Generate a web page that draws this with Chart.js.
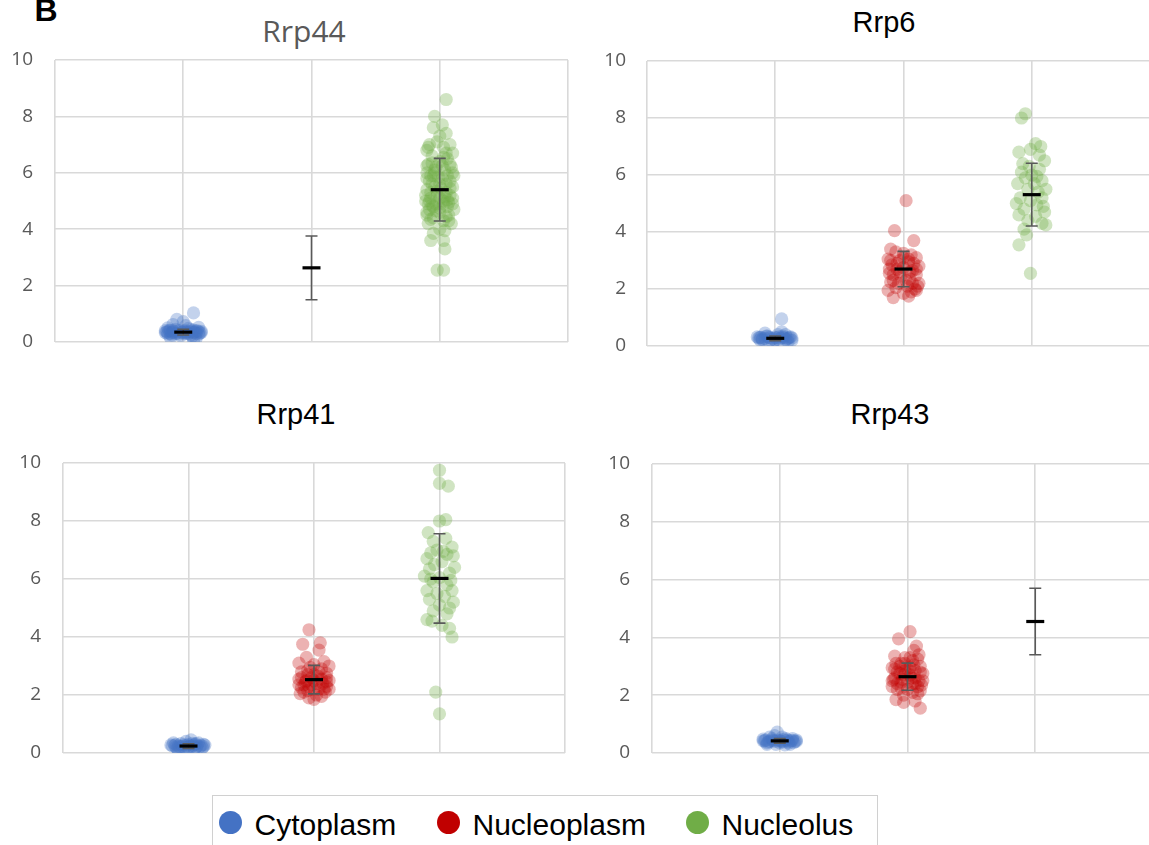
<!DOCTYPE html>
<html><head><meta charset="utf-8">
<script src="https://cdn.jsdelivr.net/npm/chart.js@4.4.0/dist/chart.umd.min.js"></script>
<style>
html,body{margin:0;padding:0;background:#fff}
body{width:1149px;height:845px;overflow:hidden;position:relative;font-family:"Liberation Sans",Arial,sans-serif}
canvas{position:absolute}
.t{position:absolute;transform:translateX(-50%);white-space:nowrap;line-height:1}
#legend{position:absolute;left:212px;top:795px;width:666px;height:70px;border:1.5px solid #d0d0d0;box-sizing:border-box}
.dot{position:absolute;width:23px;height:23px;border-radius:50%}
.lt{position:absolute;font-size:30px;line-height:1;color:#000;white-space:nowrap}
</style></head>
<body>
<div class="t" style="left:46px;top:-6px;font-size:32px;font-weight:bold;transform:translateX(-50%)">B</div>
<div class="t" id="t0"></div><div class="t" id="t1"></div><div class="t" id="t2"></div><div class="t" id="t3"></div>
<canvas id="c0"></canvas><canvas id="c1"></canvas><canvas id="c2"></canvas><canvas id="c3"></canvas>
<div id="legend"></div>
<script>
// ---------------- DATA ----------------
const categories = ["Cytoplasm", "Nucleoplasm", "Nucleolus"];
const panelTitles = ["Rrp44", "Rrp6", "Rrp41", "Rrp43"];
const yTicks = [0, 2, 4, 6, 8, 10];
// each point: [horizontal jitter within category, value]
const rrp44Cytoplasm = [[-0.12,0.35],[-0.1,0.3],[-0.08,0.4],[-0.05,0.32],[-0.03,0.28],[0,0.38],[0.02,0.3],[0.05,0.35],[0.08,0.42],[0.1,0.3],[0.12,0.36],[-0.14,0.33],[0.14,0.38],[-0.06,0.45],[0.04,0.48],[-0.02,0.22],[0.07,0.2],[-0.1,0.15],[0.1,0.12],[0.08,0.05],[-0.05,0.8],[0.0,0.72],[0.08,1.03],[-0.08,0.62],[0.02,0.58],[-0.12,0.5],[0.12,0.52],[0.06,0.25],[-0.09,0.25],
  [-0.13,0.36],[-0.11,0.4],[-0.09,0.33],[-0.07,0.37],[-0.04,0.36],[-0.01,0.34],[0.01,0.4],[0.03,0.36],[0.06,0.38],[0.09,0.35],[0.11,0.4],[0.13,0.32],[-0.12,0.28],[-0.06,0.3],[0.0,0.32],[0.04,0.3],[0.08,0.33],[0.12,0.28],[-0.1,0.42],[0.06,0.44],[-0.03,0.41],[0.1,0.38],[-0.14,0.4],[0.14,0.33],[-0.08,0.35],[0.02,0.34]];
const rrp44Nucleoplasm = [];
const rrp44Nucleolus = [[0.05,8.6],[-0.04,8.0],[-0.05,7.6],[0.05,7.4],[0.0,7.3],[-0.08,7.0],[0.08,7.0],[-0.02,7.1],[0.03,6.9],[-0.1,6.8],[0.1,6.7],[-0.06,6.6],[0.06,6.5],[0.0,6.4],[-0.09,6.3],[0.09,6.2],[-0.03,6.2],[0.04,6.1],[-0.1,6.0],[0.1,6.0],[-0.05,5.9],[0.02,5.8],[-0.08,5.7],[0.08,5.7],[0.0,5.6],[-0.04,5.5],[0.1,5.5],[-0.1,5.4],[0.05,5.3],[-0.02,5.2],[0.08,5.2],[-0.07,5.1],[0.03,5.0],[-0.11,5.0],[0.1,4.9],[-0.03,4.9],[0.06,4.8],[-0.08,4.7],[0.11,4.7],[0.0,4.6],[-0.1,4.5],[0.07,4.5],[-0.05,4.4],[0.03,4.3],[-0.09,4.2],[0.09,4.2],[0.0,4.0],[-0.05,3.85],[0.04,3.95],[-0.07,3.6],[0.03,3.6],[0.04,3.3],[-0.02,2.55],[0.03,2.55],[-0.06,5.6],[0.06,5.9],[-0.04,6.1],[0.05,6.7],[-0.07,5.3],[0.0,5.1],[0.08,6.3],[-0.09,6.9],[0.02,7.7],[0.07,4.3],[-0.1,4.6],
  [-0.1,5.8],[-0.07,5.9],[-0.04,6.0],[-0.01,5.85],[0.02,6.25],[0.05,5.6],[0.08,5.45],[0.11,5.9],[-0.11,5.2],[-0.08,5.0],[-0.05,4.8],[-0.02,5.35],[0.01,5.45],[0.04,5.15],[0.07,4.95],[0.1,5.1],[-0.09,4.9],[-0.06,4.85],[-0.03,4.65],[0.0,4.75],[0.03,4.9],[0.06,5.05],[-0.1,6.25],[-0.06,6.35],[0.03,6.55],[-0.07,4.35],[0.05,4.45]];
const rrp44Mean = [0.35, 2.63, 5.40];
const rrp44Sd = [0.1, 1.13, 1.11];

const rrp6Cytoplasm = [[-0.12,0.3],[-0.1,0.25],[-0.07,0.35],[-0.04,0.28],[0,0.3],[0.03,0.22],[0.06,0.3],[0.09,0.25],[0.12,0.32],[-0.14,0.32],[0.1,0.15],[-0.05,0.15],[0.02,0.4],[0.05,0.5],[-0.08,0.45],[0.05,0.95],[0.13,0.2],[-0.02,0.1],[0.08,0.4],
  [-0.13,0.28],[-0.11,0.3],[-0.08,0.27],[-0.05,0.3],[-0.02,0.26],[0.01,0.28],[0.04,0.27],[0.07,0.29],[0.1,0.27],[0.13,0.28],[-0.1,0.22],[0.0,0.2],[0.08,0.22],[-0.06,0.35],[0.06,0.35],[0.11,0.3],[-0.12,0.22],[0.03,0.32]];
const rrp6Nucleoplasm = [[0.02,5.1],[-0.07,4.05],[0.08,3.7],[-0.1,3.4],[-0.06,3.3],[0.0,3.25],[0.06,3.2],[0.1,3.1],[-0.12,3.05],[-0.03,3.0],[0.04,2.95],[-0.09,2.85],[0.12,2.8],[0.0,2.75],[-0.05,2.7],[0.07,2.65],[-0.11,2.55],[0.1,2.5],[-0.02,2.45],[0.05,2.35],[-0.08,2.3],[0.12,2.2],[0.03,2.1],[-0.06,2.05],[0.09,2.0],[-0.12,1.95],[0.06,1.9],[0.0,1.85],[0.1,1.95],[-0.08,1.7],[0.04,1.75],[-0.03,2.6],[0.08,2.9],[-0.1,2.25],
  [-0.1,3.0],[-0.05,2.9],[0.0,3.1],[0.05,2.6],[0.1,2.7],[-0.08,2.5],[0.02,2.3],[0.07,2.2],[-0.04,2.2],[0.11,2.1],[-0.11,2.7],[0.04,3.05]];
const rrp6Nucleolus = [[-0.05,8.15],[-0.08,8.0],[-0.1,6.8],[-0.01,6.9],[0.03,7.1],[0.07,7.0],[0.1,6.5],[0.06,6.2],[-0.08,6.1],[0.0,6.0],[-0.05,5.9],[0.08,5.8],[-0.11,5.7],[0.02,5.7],[0.11,5.5],[-0.03,5.5],[0.05,5.4],[-0.09,5.2],[0.08,5.2],[-0.01,5.1],[-0.12,5.0],[0.04,4.95],[-0.06,4.8],[0.1,4.7],[-0.1,4.6],[0.03,4.55],[-0.03,4.4],[0.08,4.3],[0.11,4.25],[-0.06,4.1],[-0.04,3.9],[-0.1,3.55],[-0.01,2.55],[0.06,6.7],[-0.07,6.4],[0.04,5.95],[0.09,4.9],[-0.02,6.3]];
const rrp6Mean = [0.27, 2.70, 5.31];
const rrp6Sd = [0.08, 0.62, 1.10];

const rrp41Cytoplasm = [[-0.13,0.25],[-0.1,0.3],[-0.07,0.22],[-0.04,0.28],[0,0.3],[0.03,0.25],[0.06,0.32],[0.09,0.22],[0.12,0.3],[-0.09,0.15],[0.05,0.15],[-0.02,0.4],[0.02,0.45],[-0.08,0.08],[0.08,0.35],[0.11,0.18],[-0.12,0.35],[0.0,0.12],
  [-0.14,0.28],[-0.11,0.26],[-0.08,0.25],[-0.05,0.23],[-0.02,0.26],[0.01,0.24],[0.04,0.27],[0.07,0.25],[0.1,0.26],[0.13,0.27],[-0.1,0.2],[0.0,0.2],[0.06,0.2],[-0.06,0.32],[0.05,0.3],[0.12,0.22],[-0.03,0.18],[0.03,0.33]];
const rrp41Nucleoplasm = [[-0.04,4.25],[-0.09,3.75],[0.05,3.8],[0.04,3.55],[-0.06,3.3],[0.08,3.15],[-0.12,3.1],[0.0,3.05],[0.12,3.0],[-0.03,2.95],[0.06,2.9],[-0.1,2.8],[0.1,2.75],[-0.05,2.7],[0.03,2.65],[-0.12,2.55],[0.12,2.5],[0.0,2.5],[-0.07,2.45],[0.07,2.4],[-0.02,2.35],[0.1,2.3],[-0.1,2.25],[0.04,2.2],[-0.05,2.15],[0.09,2.1],[-0.11,2.05],[0.02,2.0],[-0.04,1.9],[0.06,1.95],[-0.08,2.35],[0.1,2.6],[0.0,1.85],
  [-0.1,2.6],[-0.06,2.5],[-0.02,2.6],[0.02,2.4],[0.06,2.55],[0.1,2.45],[-0.12,2.35],[-0.04,2.3],[0.0,2.7],[0.04,2.8],[0.08,2.2],[-0.08,2.1],[0.12,2.2],[0.0,2.2],[-0.05,2.85]];
const rrp41Nucleolus = [[0.0,9.75],[0.0,9.3],[0.07,9.2],[0.0,8.0],[0.05,8.05],[-0.09,7.6],[0.05,7.4],[-0.05,7.3],[0.1,7.1],[-0.02,7.0],[-0.07,6.9],[0.06,6.85],[0.11,6.8],[-0.1,6.7],[0.02,6.6],[-0.04,6.5],[0.12,6.4],[-0.08,6.35],[0.08,6.2],[-0.12,6.1],[0.0,6.05],[-0.05,5.9],[0.06,5.8],[-0.1,5.6],[0.1,5.6],[-0.02,5.5],[0.04,5.4],[-0.08,5.3],[0.11,5.2],[0.0,5.1],[0.08,5.0],[-0.05,4.9],[0.06,4.8],[-0.1,4.6],[-0.06,4.55],[0.02,4.4],[0.08,4.3],[0.1,4.0],[-0.03,2.1],[0.0,1.35],[0.03,6.95],[-0.07,6.0],[0.09,5.95]];
const rrp41Mean = [0.24, 2.53, 6.02];
const rrp41Sd = [0.08, 0.49, 1.54];

const rrp43Cytoplasm = [[-0.12,0.42],[-0.09,0.38],[-0.06,0.45],[-0.03,0.4],[0,0.43],[0.03,0.38],[0.06,0.45],[0.09,0.42],[0.12,0.4],[-0.1,0.3],[0.08,0.3],[-0.04,0.6],[-0.02,0.72],[0.02,0.55],[0.1,0.5],[-0.08,0.55],[0.04,0.28],[-0.13,0.48],[0.13,0.45],
  [-0.13,0.42],[-0.11,0.45],[-0.08,0.4],[-0.05,0.42],[-0.02,0.45],[0.01,0.4],[0.04,0.43],[0.07,0.4],[0.1,0.44],[0.13,0.4],[-0.1,0.35],[0.0,0.35],[0.07,0.35],[-0.06,0.5],[0.05,0.5],[0.11,0.36],[-0.03,0.3],[0.03,0.48]];
const rrp43Nucleoplasm = [[0.02,4.2],[-0.07,3.95],[0.07,3.7],[0.05,3.55],[0.09,3.4],[-0.02,3.3],[-0.1,3.35],[0.04,3.2],[-0.05,3.1],[0.1,3.0],[-0.12,2.95],[0.0,2.9],[0.06,2.85],[-0.08,2.8],[0.12,2.75],[-0.03,2.7],[0.03,2.6],[-0.11,2.55],[0.09,2.5],[-0.05,2.45],[0.06,2.4],[-0.12,2.3],[0.11,2.35],[0.0,2.2],[-0.08,2.2],[0.04,2.1],[-0.03,2.0],[0.08,2.05],[-0.09,1.85],[-0.03,1.75],[0.06,1.8],[0.1,1.55],[-0.06,3.0],[0.02,2.95],[-0.1,2.6],
  [-0.1,2.9],[-0.06,2.75],[-0.02,2.85],[0.02,2.7],[0.06,2.6],[0.1,2.8],[-0.12,2.5],[-0.04,2.55],[0.0,2.45],[0.04,2.4],[0.08,2.3],[-0.08,2.4],[0.12,2.5],[-0.02,3.1],[0.05,3.05],[-0.09,3.1],[0.02,3.3],[0.08,3.25],[-0.05,2.25],[0.1,2.15]];
const rrp43Nucleolus = [];
const rrp43Mean = [0.42, 2.64, 4.55];
const rrp43Sd = [0.08, 0.47, 1.15];

// ---------------- STYLE / LAYOUT ----------------
const pointColors = ["rgba(68,114,196,0.32)", "rgba(192,0,0,0.30)", "rgba(112,173,71,0.33)"];
const legendColors = ["#4472C4", "#C00000", "#70AD47"];
const panels = [
  {title: panelTitles[0], pts: [rrp44Cytoplasm, rrp44Nucleoplasm, rrp44Nucleolus], mean: rrp44Mean, sd: rrp44Sd,
   L: 55, R: 568, T: 60, B: 342, gap: 22, tx: 304, ty: 16, tf: '30px "Open Sans"', tc: '#595959'},
  {title: panelTitles[1], pts: [rrp6Cytoplasm, rrp6Nucleoplasm, rrp6Nucleolus], mean: rrp6Mean, sd: rrp6Sd,
   L: 647, R: 1160, T: 61, B: 346, gap: 21, tx: 884, ty: 8, tf: '29px "Liberation Sans"', tc: '#000'},
  {title: panelTitles[2], pts: [rrp41Cytoplasm, rrp41Nucleoplasm, rrp41Nucleolus], mean: rrp41Mean, sd: rrp41Sd,
   L: 63, R: 565, T: 463, B: 753, gap: 22, tx: 296, ty: 400, tf: '29px "Liberation Sans"', tc: '#000'},
  {title: panelTitles[3], pts: [rrp43Cytoplasm, rrp43Nucleoplasm, rrp43Nucleolus], mean: rrp43Mean, sd: rrp43Sd,
   L: 652, R: 1163, T: 464, B: 753, gap: 22, tx: 890, ty: 400, tf: '29px "Liberation Sans"', tc: '#000'}
];

const errPlugin = {
  id: 'errbars',
  afterDatasetsDraw(chart) {
    const o = chart.options.plugins.errbars;
    if (!o) return;
    const xs = chart.scales.x, ys = chart.scales.y, ctx = chart.ctx;
    ctx.save();
    o.mean.forEach((m, i) => {
      const x = xs.getPixelForValue(i + 1);
      const yLo = ys.getPixelForValue(m - o.sd[i]);
      const yHi = ys.getPixelForValue(m + o.sd[i]);
      ctx.strokeStyle = '#595959'; ctx.lineWidth = 1.6;
      ctx.beginPath();
      ctx.moveTo(x, yLo); ctx.lineTo(x, yHi);
      ctx.moveTo(x - 6, yLo); ctx.lineTo(x + 6, yLo);
      ctx.moveTo(x - 6, yHi); ctx.lineTo(x + 6, yHi);
      ctx.stroke();
      const ym = ys.getPixelForValue(m);
      ctx.strokeStyle = '#000'; ctx.lineWidth = 3.2;
      ctx.beginPath(); ctx.moveTo(x - 9, ym); ctx.lineTo(x + 9, ym); ctx.stroke();
    });
    ctx.restore();
  }
};

const AW = 60, PT = 40, PB = 40, PR = 10;
panels.forEach((p, k) => {
  const t = document.getElementById('t' + k);
  t.textContent = p.title;
  t.style.left = p.tx + 'px'; t.style.top = p.ty + 'px';
  t.style.font = p.tf; t.style.color = p.tc; t.style.lineHeight = '1';
  const c = document.getElementById('c' + k);
  const w = p.R - p.L + AW + PR, h = p.B - p.T + PT + PB;
  c.width = w; c.height = h;
  c.style.left = (p.L - AW) + 'px'; c.style.top = (p.T - PT) + 'px';
  c.style.width = w + 'px'; c.style.height = h + 'px';
  const datasets = p.pts.map((arr, i) => ({
    label: categories[i],
    data: arr.map(d => ({x: i + 1 + d[0], y: d[1]})),
    backgroundColor: pointColors[i],
    borderWidth: 0,
    pointRadius: 6.6,
    pointHoverRadius: 6.6
  }));
  new Chart(c, {
    type: 'scatter',
    data: {datasets},
    plugins: [errPlugin],
    options: {
      responsive: false, animation: false, devicePixelRatio: 1,
      layout: {padding: {left: 0, right: PR, top: PT, bottom: PB}},
      plugins: {legend: {display: false}, tooltip: {enabled: false}, errbars: {mean: p.mean, sd: p.sd}},
      scales: {
        x: {type: 'linear', min: 0, max: 4,
            ticks: {display: false, stepSize: 1},
            grid: {color: '#d9d9d9', lineWidth: 1.6, drawTicks: false},
            border: {display: false},
            afterFit: s => { s.height = 0; }},
        y: {type: 'linear', min: 0, max: 10,
            afterBuildTicks: s => { s.ticks = yTicks.map(v => ({value: v})); },
            ticks: {padding: p.gap, color: '#595959', font: {family: 'Open Sans', size: 19}},
            grid: {color: '#d9d9d9', lineWidth: 1.6, drawTicks: false},
            border: {display: false},
            afterFit: s => { s.width = AW; }}
      }
    }
  });
});

// shared legend (HTML)
const lg = document.getElementById('legend');
const legendPos = [[231 - 212, 255 - 212], [449 - 212, 473 - 212], [698 - 212, 722 - 212]];
categories.forEach((name, i) => {
  const d = document.createElement('div');
  d.className = 'dot';
  d.style.background = legendColors[i];
  d.style.left = (legendPos[i][0] - 11.5 - 1.5) + 'px';
  d.style.top = (823 - 795 - 11.5 - 1.5) + 'px';
  lg.appendChild(d);
  const s = document.createElement('div');
  s.className = 'lt';
  s.textContent = name;
  s.style.left = (legendPos[i][1] - 1.5) + 'px';
  s.style.top = (810 - 795 - 1.5) + 'px';
  lg.appendChild(s);
});
</script>
</body></html>
